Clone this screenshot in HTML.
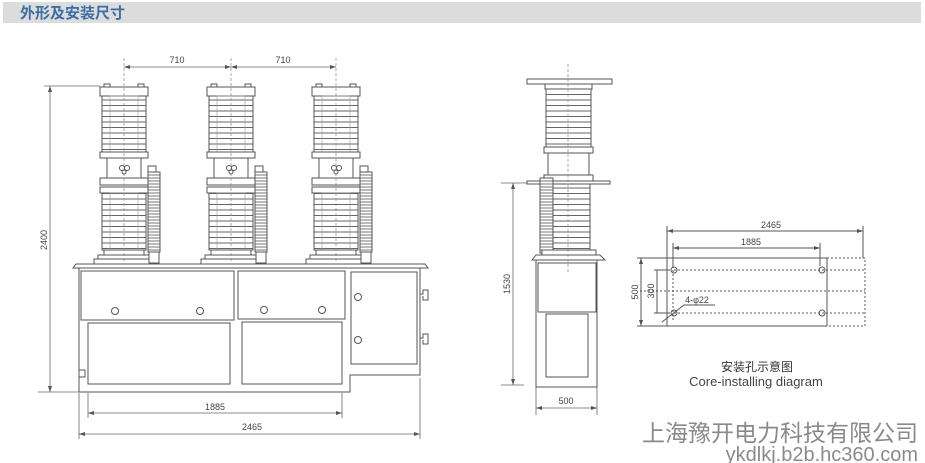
<!DOCTYPE html>
<html><head><meta charset="utf-8"><style>
html,body{margin:0;padding:0;background:#fff;}
svg{display:block;}
text{font-family:"Liberation Sans","Noto Sans CJK SC",sans-serif;}
</style></head><body>
<svg width="925" height="463" viewBox="0 0 925 463" xmlns="http://www.w3.org/2000/svg">
<defs>
<pattern id="shed" width="10" height="5.5" patternUnits="userSpaceOnUse">
<rect width="10" height="5.5" fill="#fff"/>
<line x1="0" y1="1" x2="10" y2="1" stroke="#666" stroke-width="1"/>
</pattern>
<pattern id="spr" width="10" height="3" patternUnits="userSpaceOnUse">
<rect width="10" height="3" fill="#fff"/>
<line x1="0" y1="1" x2="10" y2="1" stroke="#666" stroke-width="0.9"/>
</pattern>
<marker id="ar" markerWidth="6" markerHeight="4" refX="6" refY="2" orient="auto-start-reverse" markerUnits="userSpaceOnUse">
<path d="M0 0 L6 2 L0 4 Z" fill="#555"/></marker>
<g id="col" stroke="#555" stroke-width="1" fill="#fff">
<rect x="-20" y="84" width="6" height="4"/><rect x="14" y="84" width="6" height="4"/>
<rect x="-24" y="87" width="48" height="9"/>
<rect x="-22" y="96" width="44" height="56" fill="url(#shed)"/>
<rect x="-14" y="96" width="28" height="56" fill="none" stroke="#999" stroke-width="0.6"/>
<rect x="-24" y="152" width="48" height="6"/>
<rect x="-17" y="158" width="34" height="20"/>
<circle cx="-2" cy="168" r="2.5"/><circle cx="3" cy="168" r="2.5"/><circle cx="0" cy="172" r="2"/>
<rect x="-24" y="178" width="48" height="7"/>
<rect x="-24" y="187" width="48" height="6"/>
<rect x="-22" y="193" width="44" height="57" fill="url(#shed)"/>
<rect x="-14" y="193" width="28" height="57" fill="none" stroke="#999" stroke-width="0.6"/>
<rect x="-20" y="250" width="40" height="5"/>
<rect x="-26" y="255" width="52" height="4"/>
<rect x="-30" y="259" width="60" height="5"/>
<path d="M24 166 h8 v6 h-8 z"/>
<rect x="24" y="172" width="12" height="80" fill="url(#spr)"/>
<rect x="25" y="252" width="10" height="11"/>
<line x1="0" y1="58" x2="0" y2="262" stroke="#888" stroke-dasharray="3,2" stroke-width="0.7"/>
</g>
</defs>

<rect x="3" y="2" width="918" height="21" fill="#dcdcdc"/>
<text x="20" y="18" font-size="15" fill="#3a6ea5" font-weight="bold">外形及安装尺寸</text>

<use href="#col" x="124"/>
<use href="#col" x="231"/>
<use href="#col" x="336"/>

<g stroke="#555" stroke-width="1" fill="none">
<path d="M73 268 L76 264 H425 L428 268 Z" fill="#fff"/>
<path d="M79 268 V392 H350 V375 H420 V268"/>
<rect x="81" y="271" width="153" height="49"/>
<rect x="238" y="271" width="107" height="48"/>
<rect x="351" y="272" width="66" height="92"/>
<rect x="88" y="323" width="142" height="61"/>
<rect x="242" y="322" width="100" height="62"/>
<circle cx="115" cy="311" r="3.5"/><circle cx="200" cy="311" r="3.5"/>
<circle cx="264" cy="310" r="3.5"/><circle cx="322" cy="310" r="3.5"/>
<circle cx="358" cy="297" r="3.5"/><circle cx="358" cy="340" r="3.5"/>
<rect x="79" y="370" width="6" height="7"/>
<path d="M420 294 h3 v-4 h5 v10 h-5 v-4"/>
<path d="M420 338 h3 v-4 h5 v10 h-5 v-4"/>
</g>

<g stroke="#666" stroke-width="0.8" fill="none">
<line x1="124" y1="67" x2="231" y2="67" marker-start="url(#ar)" marker-end="url(#ar)"/>
<line x1="231" y1="67" x2="336" y2="67" marker-start="url(#ar)" marker-end="url(#ar)"/>
<line x1="44" y1="86" x2="100" y2="86"/><line x1="50" y1="86" x2="50" y2="392" marker-start="url(#ar)" marker-end="url(#ar)"/>
<line x1="38" y1="392" x2="79" y2="392"/>
<line x1="88" y1="393" x2="88" y2="418"/><line x1="342" y1="393" x2="342" y2="418"/>
<line x1="88" y1="413" x2="342" y2="413" marker-start="url(#ar)" marker-end="url(#ar)"/>
<line x1="79" y1="393" x2="79" y2="439"/><line x1="420" y1="378" x2="420" y2="439"/>
<line x1="79" y1="434" x2="420" y2="434" marker-start="url(#ar)" marker-end="url(#ar)"/>
</g>
<g font-size="9" fill="#444" text-anchor="middle">
<text x="177" y="63">710</text><text x="283" y="63">710</text>
<text x="215" y="410">1885</text><text x="252" y="430">2465</text>
<text transform="translate(47,240) rotate(-90)">2400</text>
</g>

<g stroke="#555" stroke-width="1" fill="#fff">
<rect x="527" y="79" width="85" height="5"/>
<rect x="545" y="84" width="47" height="5"/>
<rect x="546" y="89" width="45" height="58" fill="url(#shed)"/>
<rect x="544" y="147" width="49" height="6"/>
<rect x="548" y="153" width="41" height="22"/>
<rect x="544" y="175" width="49" height="6"/>
<rect x="527" y="181" width="83" height="3"/>
<rect x="552" y="184" width="38" height="66" fill="url(#shed)"/>
<rect x="540" y="178" width="13" height="75" fill="url(#spr)"/>
<rect x="542" y="250" width="54" height="5"/>
<path d="M532 260 L536 255 H600 L605 260 Z"/>
<rect x="536" y="260" width="61" height="127" fill="none"/>
<rect x="538" y="263" width="58" height="49" fill="none"/>
<rect x="546" y="314" width="42" height="63" fill="none"/>
<line x1="568" y1="64" x2="568" y2="272" stroke="#888" stroke-dasharray="3,2" stroke-width="0.7"/>
</g>
<g stroke="#666" stroke-width="0.8">
<line x1="501" y1="183" x2="527" y2="183"/><line x1="513" y1="183" x2="513" y2="385" marker-start="url(#ar)" marker-end="url(#ar)"/>
<line x1="501" y1="385" x2="524" y2="385"/>
<line x1="536" y1="387" x2="536" y2="415"/><line x1="597" y1="387" x2="597" y2="415"/>
<line x1="536" y1="408" x2="597" y2="408" marker-start="url(#ar)" marker-end="url(#ar)"/>
</g>
<g font-size="9" fill="#444" text-anchor="middle">
<text transform="translate(510,284) rotate(-90)">1530</text>
<text x="566" y="404">500</text>
</g>

<g stroke="#555" stroke-width="1" fill="none">
<rect x="667" y="258" width="160" height="68"/>
<path d="M827 258 H865 V326 H827" stroke-dasharray="2,2"/>
<line x1="674" y1="270" x2="865" y2="270" stroke-dasharray="2,2"/>
<line x1="674" y1="313" x2="865" y2="313" stroke-dasharray="2,2"/>
<line x1="640" y1="291" x2="865" y2="291" stroke-dasharray="2,2"/>
<line x1="673" y1="262" x2="673" y2="322" stroke-dasharray="2,2"/>
<circle cx="674" cy="270" r="3"/><circle cx="822" cy="270" r="3"/>
<circle cx="674" cy="313" r="3"/><circle cx="822" cy="313" r="3"/>
<line x1="667" y1="226" x2="667" y2="258"/><line x1="863" y1="226" x2="863" y2="258"/>
<line x1="667" y1="231" x2="863" y2="231" marker-start="url(#ar)" marker-end="url(#ar)"/>
<line x1="673" y1="243" x2="673" y2="266"/><line x1="820" y1="243" x2="820" y2="266"/>
<line x1="673" y1="248" x2="820" y2="248" marker-start="url(#ar)" marker-end="url(#ar)"/>
<line x1="637" y1="258" x2="667" y2="258"/><line x1="637" y1="326" x2="667" y2="326"/>
<line x1="641" y1="258" x2="641" y2="326" marker-start="url(#ar)" marker-end="url(#ar)"/>
<line x1="654" y1="270" x2="670" y2="270"/><line x1="654" y1="313" x2="670" y2="313"/>
<line x1="657" y1="270" x2="657" y2="313"/>
<path d="M662 322 L684 305 H715"/>
</g>
<g font-size="9" fill="#444" text-anchor="middle">
<text x="771" y="228">2465</text>
<text x="751" y="245">1885</text>
<text transform="translate(638,292) rotate(-90)">500</text>
<text transform="translate(654,291) rotate(-90)">300</text>
<text x="697" y="303">4-φ22</text>
</g>
<text x="757" y="371" font-size="12" fill="#333" text-anchor="middle">安装孔示意图</text>
<text x="756" y="386" font-size="13" fill="#444" text-anchor="middle">Core-installing diagram</text>

<text x="918" y="441" font-size="23" fill="#8a8a8a" text-anchor="end">上海豫开电力科技有限公司</text>
<text x="918" y="461" font-size="20" fill="#8a8a8a" text-anchor="end">ykdlkj.b2b.hc360.com</text>
</svg>
</body></html>
